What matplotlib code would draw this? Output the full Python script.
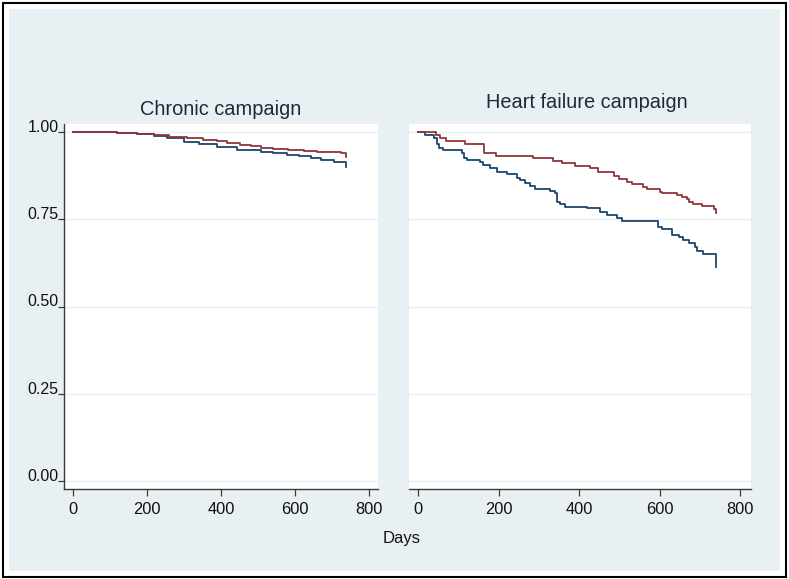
import matplotlib
matplotlib.use("Agg")
import matplotlib.pyplot as plt
from matplotlib.patches import Rectangle

plt.rcParams['font.family'] = ['Liberation Sans', 'DejaVu Sans']

# Kaplan-Meier estimates (days, survival)
# Chronic campaign
chronic_days_1 = [0, 60, 120, 172, 220, 254, 299, 340, 389, 443, 507, 540, 579, 610, 642, 670, 705, 737, 738]
chronic_surv_1 = [1.0, 0.999, 0.997, 0.994, 0.989, 0.983, 0.972, 0.965, 0.958, 0.948, 0.944, 0.940, 0.934,
                  0.930, 0.925, 0.920, 0.913, 0.907, 0.899]
chronic_days_2 = [0, 60, 120, 172, 220, 260, 308, 350, 390, 416, 450, 480, 507, 540, 580, 624, 660, 700, 724, 738]
chronic_surv_2 = [1.0, 0.999, 0.997, 0.994, 0.990, 0.987, 0.982, 0.977, 0.973, 0.969, 0.964, 0.959, 0.955,
                  0.952, 0.949, 0.946, 0.944, 0.942, 0.940, 0.929]

# Heart failure campaign
hf_days_1 = [0, 17, 40, 46, 52, 62, 109, 114, 122, 154, 161, 179, 196, 221, 246, 253, 266, 278, 291, 328,
             340, 345, 353, 365, 419, 452, 469, 494, 506, 597, 605, 631, 647, 658, 672, 688, 694, 709, 740]
hf_surv_1 = [1.0, 0.991, 0.984, 0.965, 0.955, 0.948, 0.939, 0.925, 0.919, 0.913, 0.905, 0.898, 0.886, 0.881,
             0.869, 0.862, 0.855, 0.845, 0.836, 0.832, 0.824, 0.800, 0.794, 0.786, 0.781, 0.772, 0.762, 0.753,
             0.744, 0.728, 0.721, 0.706, 0.698, 0.690, 0.683, 0.670, 0.659, 0.649, 0.613]
hf_days_2 = [0, 45, 55, 70, 117, 164, 194, 286, 335, 357, 390, 427, 447, 486, 498, 519, 531, 560, 568, 601,
             605, 643, 655, 668, 674, 682, 705, 736, 740]
hf_surv_2 = [1.0, 0.991, 0.984, 0.973, 0.965, 0.939, 0.930, 0.925, 0.918, 0.910, 0.903, 0.896, 0.884, 0.874,
             0.864, 0.858, 0.851, 0.843, 0.836, 0.829, 0.824, 0.819, 0.813, 0.807, 0.800, 0.794, 0.788, 0.779,
             0.769]

titles = ['Chronic campaign', 'Heart failure campaign']
x_ticks = [0, 200, 400, 600, 800]
y_ticks = [0.0, 0.25, 0.5, 0.75, 1.0]
y_labels = ['0.00', '0.25', '0.50', '0.75', '1.00']

NAVY = '#1a476f'
MAROON = '#90353b'
BG = '#e9f0f3'
GRID = '#eaf1f3'
AXIS = '#3a3a3a'

W, H = 789, 579


def frac(x0, y0, x1, y1):
    return [x0 / W, 1 - y1 / H, (x1 - x0) / W, (y1 - y0) / H]


fig = plt.figure(figsize=(W / 100, H / 100), dpi=100)
fig.patch.set_facecolor('white')

# outer frame and light background, kept behind the axes
fig.patches.append(Rectangle((3 / W, 1 - 577 / H), 783 / W, 574 / H, transform=fig.transFigure,
                             facecolor='white', edgecolor='black', linewidth=1.5, zorder=-3))
fig.patches.append(Rectangle((9 / W, 1 - 571 / H), 771 / W, 562 / H, transform=fig.transFigure,
                             facecolor=BG, edgecolor='none', zorder=-2))

ax1 = fig.add_axes(frac(64, 124, 378, 489))
ax2 = fig.add_axes(frac(409, 124, 751, 489))

ax1.set_xlim(-24.3, 824)
ax2.set_xlim(-22.4, 827)

series = [
    (ax1, chronic_days_1, chronic_surv_1, chronic_days_2, chronic_surv_2),
    (ax2, hf_days_1, hf_surv_1, hf_days_2, hf_surv_2),
]

for ax, d1, s1, d2, s2 in series:
    ax.set_facecolor('white')
    ax.set_ylim(-0.0229, 1.0229)
    for y in y_ticks:
        ax.axhline(y, color=GRID, lw=1.0, zorder=1)
    ax.step(d1, s1, where='post', color=NAVY, lw=1.3, zorder=3)
    ax.step(d2, s2, where='post', color=MAROON, lw=1.3, zorder=3)
    ax.set_xticks(x_ticks)
    ax.tick_params(axis='x', direction='out', length=5, width=0.9, color=AXIS, pad=4,
                   labelsize=11.8, labelcolor='#111111')
    for side in ['top', 'right']:
        ax.spines[side].set_visible(False)
    ax.spines['bottom'].set_color(AXIS)
    ax.spines['bottom'].set_linewidth(1.0)

# y axis only on the left panel
ax1.set_yticks(y_ticks)
ax1.set_yticklabels(y_labels)
ax1.tick_params(axis='y', direction='out', length=4, width=0.9, color=AXIS, pad=0,
                labelsize=11.5, labelcolor='#111111')
for lab in ax1.get_yticklabels():
    lab.set_va('baseline')
ax1.spines['left'].set_color(AXIS)
ax1.spines['left'].set_linewidth(1.0)

ax2.set_yticks([])
ax2.spines['left'].set_visible(False)

fig.text(221 / W, 1 - 110 / H, titles[0], ha='center', va='center', fontsize=14.4, color='#1e2a38')
fig.text(587 / W, 1 - 102 / H, titles[1], ha='center', va='center', fontsize=14.4, color='#1e2a38')
fig.text(402 / W, 1 - 539 / H, 'Days', ha='center', va='center', fontsize=12, color='#111111')

fig.savefig('out.png', dpi=100)
